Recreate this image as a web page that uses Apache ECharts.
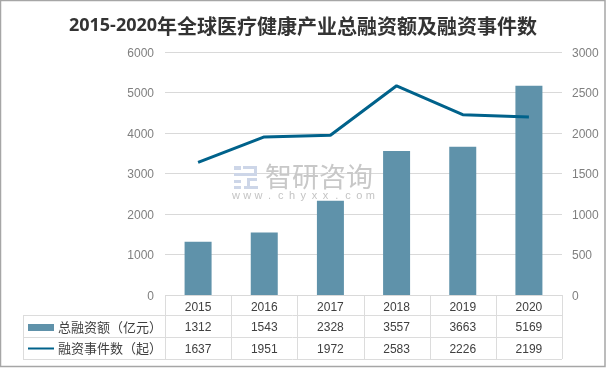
<!DOCTYPE html>
<html><head><meta charset="utf-8">
<style>html,body{margin:0;padding:0;background:#fff}#c{width:606px;height:368px}</style>
<script src="https://cdn.jsdelivr.net/npm/echarts@6/dist/echarts.min.js"></script>
</head><body><div id="c"></div>
<script>
const years = ['2015','2016','2017','2018','2019','2020'];
const amount = [1312,1543,2328,3557,3663,5169];
const deals = [1637,1951,1972,2583,2226,2199];
const amountName = '总融资额（亿元）';
const dealsName = '融资事件数（起）';
const titleLatin = '2015-2020';
const titleCjk = '年全球医疗健康产业总融资额及融资事件数';
const wmName = '智研咨询';
const wmUrl = 'www.chyxx.com';

const FONT = '"Liberation Sans","Noto Sans CJK SC",sans-serif';
const G = {l:165, r:562, t:52, b:295};
const rows = [295,315,337,359];
const tableLeft = 23;
const slot = (G.r-G.l)/years.length;
const lineC = '#dcdcdc';
const gfx = [];
function ln(x1,y1,x2,y2){gfx.push({type:'line',silent:true,shape:{x1,y1,x2,y2},style:{stroke:lineC,lineWidth:1}});}
rows.forEach((y,i)=>ln(i===0?G.l:tableLeft,y+.5,G.r,y+.5));
for(let i=0;i<=years.length;i++){const x=Math.round(G.l+i*slot)+.5;ln(x,G.b,x,rows[3]);}
ln(tableLeft+.5,rows[1],tableLeft+.5,rows[3]);
[amount,deals].forEach((arr,r)=>arr.forEach((v,i)=>gfx.push({type:'text',silent:true,
  style:{x:G.l+(i+.5)*slot,y:(rows[r+1]+rows[r+2])/2+1.5,text:String(v),align:'center',verticalAlign:'middle',fill:'#404040',font:'12px '+FONT}})));
gfx.push({type:'rect',silent:true,shape:{x:.5,y:.5,width:604.5,height:366},style:{fill:'none',stroke:'#a6a6a6',lineWidth:1.5}});
// watermark
const wm=[[234,166,7,4],[243,166,14,3],[254,166,3,10],[234,173,16,3],[243,173,14,3],[234,180,7,3],[234,186,7,3],[250,178,7,3],[247,178,3,8],[244,186,14,3]];
wm.forEach(r=>gfx.push({type:'rect',silent:true,z:20,shape:{x:r[0],y:r[1],width:r[2],height:r[3]},style:{fill:'#cdd6e8'}}));
gfx.push({type:'text',silent:true,z:20,style:{x:265,y:177,text:wmName,verticalAlign:'middle',fill:'#c8c8c8',font:'27px "Noto Sans CJK SC"'}});
wmUrl.split('').forEach((ch,i)=>gfx.push({type:'text',silent:true,z:20,style:{x:236+i*11.2,y:196,text:ch,align:'center',verticalAlign:'middle',fill:'#c4c4c4',font:'11px "Liberation Sans"'}}));

const chart = echarts.init(document.getElementById('c'),null,{renderer:'canvas'});
const axisLab = {formatter:v=>'{n|'+v+'}',rich:{n:{color:'#7f7f7f',fontSize:12,fontFamily:FONT,padding:[3,0,0,0]}}};
chart.setOption({
  animation:false,
  title:{text:'{a|'+titleLatin+'}{b|'+titleCjk+'}',left:'center',top:11,textStyle:{rich:{
    a:{fontFamily:'"Open Sans"',fontSize:18,fontWeight:'bold',color:'#333'},
    b:{fontFamily:'"Noto Sans CJK SC"',fontSize:20,fontWeight:'bold',color:'#333'}}}},
  grid:{left:G.l,top:G.t,width:G.r-G.l,height:G.b-G.t},
  legend:{left:27,top:321,padding:0,orient:'vertical',itemGap:8,itemWidth:26,itemHeight:7,textStyle:{color:'#404040',fontSize:13,fontFamily:'"Noto Sans CJK SC"',padding:[0,0,0,-1]},
    data:[{name:amountName,icon:'rect'},{name:dealsName,itemStyle:{opacity:0}}]},
  xAxis:{type:'category',data:years,axisLine:{show:false},axisTick:{show:false},
    axisLabel:{color:'#404040',fontSize:12,fontFamily:FONT,margin:7}},
  yAxis:[
    {type:'value',min:0,max:6000,interval:1000,axisLine:{show:false},axisTick:{show:false},axisLabel:{...axisLab,margin:11},splitLine:{lineStyle:{color:'#d9d9d9'}}},
    {type:'value',min:0,max:3000,interval:500,axisLine:{show:false},axisTick:{show:false},axisLabel:{...axisLab,margin:10},splitLine:{show:false}}
  ],
  series:[
    {name:amountName,type:'bar',data:amount,barWidth:27,itemStyle:{color:'#5f92aa'}},
    {name:dealsName,type:'line',yAxisIndex:1,data:deals,symbol:'none',lineStyle:{color:'#00628b',width:3},itemStyle:{color:'#00628b'}}
  ],
  graphic:gfx
});
</script></body></html>
